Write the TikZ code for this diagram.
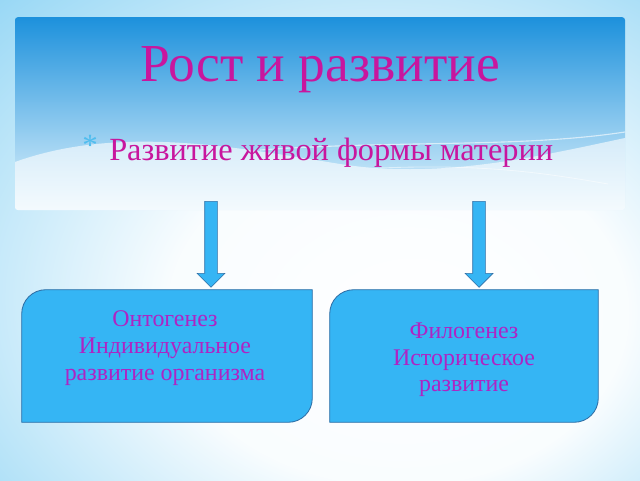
\documentclass[tikz,border=0pt]{standalone}
\usepackage{fontspec}
\setmainfont{Liberation Serif}
\usetikzlibrary{shapes.arrows}

\definecolor{slideblue}{HTML}{62C3F0}
\definecolor{bannertop}{HTML}{1D91DC}
\definecolor{bannermid}{HTML}{5DBCEE}
\definecolor{bannerlow}{HTML}{E4F5FD}
\definecolor{titlepink}{HTML}{C8169E}
\definecolor{textpurple}{HTML}{AE24C4}
\definecolor{boxfill}{HTML}{35B5F4}
\definecolor{boxline}{HTML}{2F6FA6}
\definecolor{starblue}{HTML}{4FBDEE}

\pgfdeclareradialshading{slidebg}{\pgfpoint{8bp}{-10bp}}{%
  color(0bp)=(white); color(18bp)=(white!96!slideblue);
  color(45bp)=(slideblue!75); color(75bp)=(slideblue)}

\begin{document}
\begin{tikzpicture}
    \tikzstyle{stagebox} = [rectangle, minimum height=3.3cm, inner sep=0pt]
    \tikzstyle{stagetext} = [text=textpurple, align=center, font=\fontsize{17}{19}\selectfont]
    \tikzstyle{downarrow} = [single arrow, draw=boxline, fill=boxfill, rotate=-90, minimum height=2.15cm, minimum width=0.68cm, single arrow head extend=0.19cm, single arrow head indent=0pt, inner xsep=0pt, inner ysep=0.15cm]
    \tikzstyle{edge} = [draw=boxline, fill=boxfill, line width=0.6pt]

    % slide background
    \shade[shading=slidebg] (0,0) rectangle (16,12);
    \useasboundingbox (0,0) rectangle (16,12);

    % banner
    \begin{scope}
        \clip[rounded corners=2pt] (0.375,6.75) rectangle (15.625,11.57);
        \shade[top color=bannertop, middle color=bannermid, bottom color=bannerlow] (0.375,6.75) rectangle (15.625,11.57);
        \fill[white, opacity=0.6] (0.375,7.95) .. controls (3,8.9) and (6,8.3) .. (8.5,7.9) .. controls (11,7.5) and (13.5,8.1) .. (15.625,8.55) -- (15.625,6.75) -- (0.375,6.75) -- cycle;
        \draw[white, opacity=0.6, line width=0.8pt] (6.5,8.25) .. controls (10,8.5) and (13,8.3) .. (15.625,8.7);
        \draw[white, opacity=0.5, line width=0.6pt] (9.5,7.8) .. controls (12,7.9) and (13.5,7.7) .. (15.2,7.4);
    \end{scope}

    \node[text=titlepink, font=\fontsize{38}{40}\selectfont] (title) at (8,10.25) {Рост и развитие};
    \node[text=titlepink, font=\fontsize{23}{25}\selectfont, anchor=base] (sub) at (8.28,7.98) {Развитие живой формы материи};
    \node[text=starblue, font=\fontsize{22}{22}\selectfont, anchor=base east] (star) at ([xshift=-1pt,yshift=4pt]sub.base west) {*};

    % stages
    \node[stagebox, minimum width=7.25cm] (onto) at (4.175,3.1) {};
    \node[stagebox, minimum width=6.7cm] (phylo) at (11.6,3.1) {};
    \draw[edge] (onto.south west) -- ([yshift=-0.6cm]onto.north west) arc[start angle=180, end angle=90, radius=0.6cm] -- (onto.north east) -- ([yshift=0.6cm]onto.south east) arc[start angle=0, end angle=-90, radius=0.6cm] -- cycle;
    \draw[edge] (phylo.south west) -- ([yshift=-0.6cm]phylo.north west) arc[start angle=180, end angle=90, radius=0.6cm] -- (phylo.north east) -- ([yshift=0.6cm]phylo.south east) arc[start angle=0, end angle=-90, radius=0.6cm] -- cycle;
    \node[stagetext] (ontoText) at ([xshift=-0.05cm,yshift=0.2cm]onto.center) {Онтогенез\\Индивидуальное\\развитие организма};
    \node[stagetext] (phyloText) at ([yshift=-0.1cm]phylo.center) {Филогенез\\Историческое\\развитие};

    % arrows
    \node[downarrow] (arrL) at (5.275,5.97) {};
    \node[downarrow] (arrR) at (11.975,5.97) {};
\end{tikzpicture}
\end{document}
